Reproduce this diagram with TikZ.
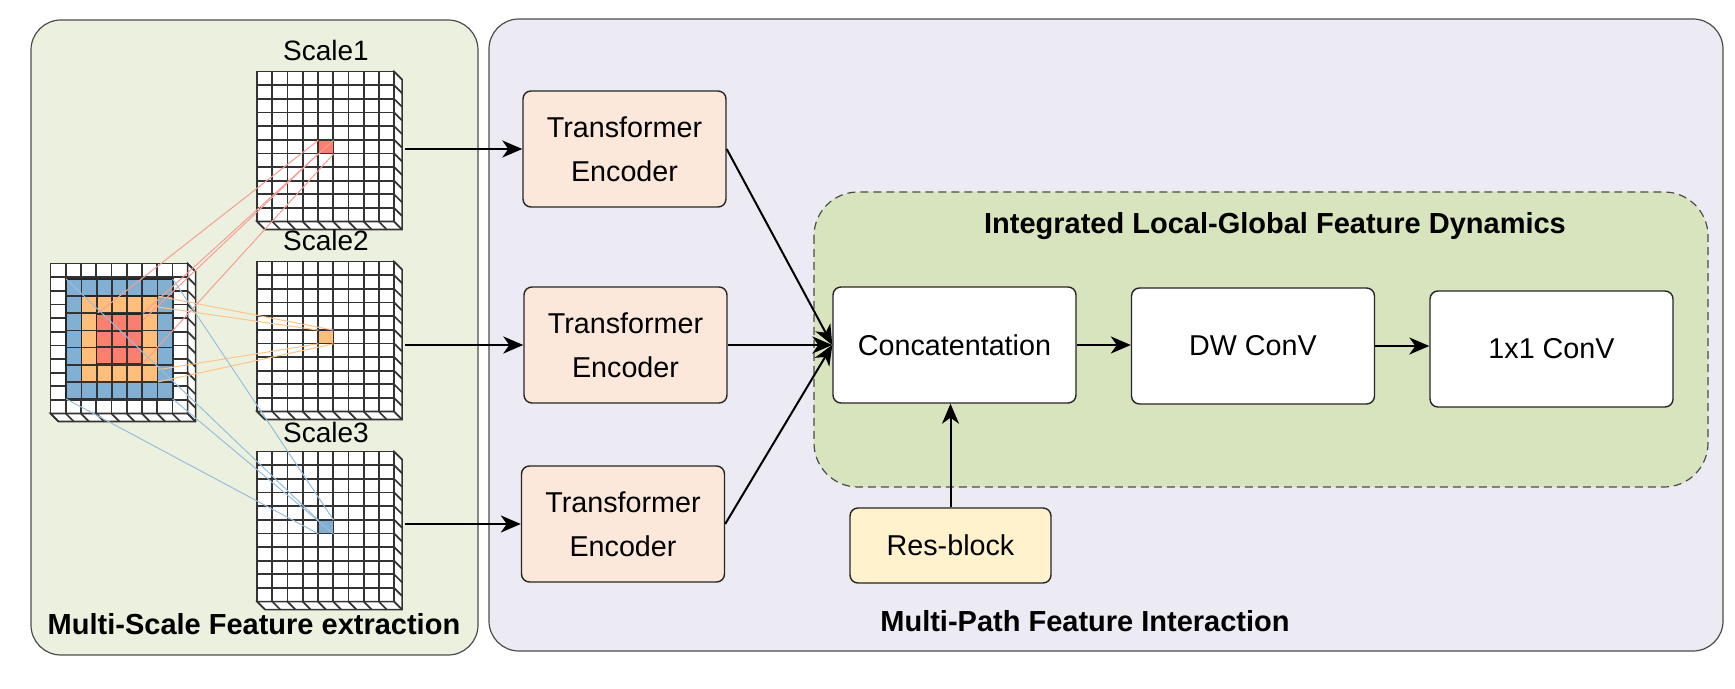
\documentclass[tikz,border=0pt]{standalone}
\usepackage{fontspec}
\setmainfont{Liberation Sans}
\usepackage{tikz}
\usetikzlibrary{arrows.meta,calc}

\definecolor{leftbg}{RGB}{235,241,222}
\definecolor{rightbg}{RGB}{236,234,242}
\definecolor{dashfill}{RGB}{215,228,189}
\definecolor{encfill}{RGB}{252,232,218}
\definecolor{resfill}{RGB}{255,242,204}
\definecolor{redcell}{RGB}{250,127,111}
\definecolor{orangecell}{RGB}{255,190,122}
\definecolor{bluecell}{RGB}{130,176,210}
\definecolor{redlnk}{RGB}{247,158,148}
\definecolor{orangelnk}{RGB}{255,196,136}
\definecolor{bluelnk}{RGB}{152,190,220}

% 9x11 feature map with depth faces, drawn over a named node
\newcommand{\cubegrid}[1]{%
  \begin{scope}[shift={(#1.north west)}]
    \filldraw[gridline,fill=white] (0,0) rectangle (137,150);
    \filldraw[gridline,fill=white] (137,0) -- (145,8) -- (145,158) -- (8,158) -- (0,150) -- (137,150) -- cycle;
    \foreach \gi in {1,...,8} \draw[gridline] (\gi*15.222,0) -- (\gi*15.222,150);
    \foreach \gj in {1,...,10} \draw[gridline] (0,\gj*13.636) -- (137,\gj*13.636);
    \foreach \gj in {0,...,11} \draw[gridline] (137,\gj*13.636) -- ++(8,8);
    \foreach \gi in {0,...,9} \draw[gridline] (\gi*15.222,150) -- ++(8,8);
  \end{scope}}

% n x n cells inside a named patch node
\newcommand{\patchgrid}[2]{%
  \foreach \gi in {1,...,#2}
    \draw[gridline] ($(#1.north west)!\gi/#2!(#1.north east)$) -- ($(#1.south west)!\gi/#2!(#1.south east)$)
                    ($(#1.north west)!\gi/#2!(#1.south west)$) -- ($(#1.north east)!\gi/#2!(#1.south east)$);}

\begin{document}
\begin{tikzpicture}[x=0.5pt,y=-0.5pt,
   panel/.style={draw=black!70,line width=0.6pt,rounded corners=15pt},
   block/.style={draw=black!85,line width=0.7pt,rounded corners=4pt,inner sep=0pt,
      font=\fontsize{14.35}{22}\selectfont,align=center},
   enc/.style={block,fill=encfill,minimum width=101.5pt,minimum height=58pt},
   conv/.style={block,fill=white,minimum width=121.5pt,minimum height=58pt},
   gridbox/.style={inner sep=0pt,minimum width=68.5pt,minimum height=75pt},
   patchbox/.style={inner sep=0pt,outer sep=0pt,draw=black!85,line width=0.8pt},
   cellbox/.style={inner sep=0pt,outer sep=0pt,draw=black!80,line width=0.6pt,
      minimum width=7.61pt,minimum height=6.82pt},
   gridline/.style={draw=black!80,line width=0.85pt},
   arr/.style={-{Stealth[length=10pt,width=8.5pt,inset=3pt]},line width=1pt},
   rflink/.style={line width=0.5pt},
   paneltitle/.style={font=\fontsize{14.5}{17}\selectfont\bfseries},
   scalelabel/.style={font=\fontsize{14}{17}\selectfont}]

\useasboundingbox (0,0) rectangle (1735,689);

% panels
\draw[panel,fill=leftbg] (31,20) rectangle (478,655);
\draw[panel,fill=rightbg] (489,19) rectangle (1723,651);
\draw[draw=black!70,line width=0.6pt,dash pattern=on 4pt off 2.5pt,rounded corners=22pt,fill=dashfill]
   (814,192) rectangle (1708,487);

% feature maps
\node[gridbox] (in) at (119.5,339) {};
\node[gridbox] (s1) at (326,147) {};
\node[gridbox] (s2) at (326,337) {};
\node[gridbox] (s3) at (326,527) {};
\foreach \g in {in,s1,s2,s3} \cubegrid{\g};

\node[scalelabel] (l1) at (326,50) {Scale1};
\node[scalelabel] (l2) at (326,240) {Scale2};
\node[scalelabel] (l3) at (326,432) {Scale3};

\node[cellbox,fill=redcell] (c1) at (s1.center) {};
\node[cellbox,fill=orangecell] (c2) at (s2.center) {};
\node[cellbox,fill=bluecell] (c3) at (s3.center) {};

% receptive regions and their links
\node[patchbox,fill=bluecell,minimum width=53.3pt,minimum height=60pt] (rb) at (in.center) {};
\patchgrid{rb}{7}
\node[patchbox,draw=none,minimum width=38.05pt,minimum height=43pt] (ro) at (in.center) {};
\node[patchbox,draw=none,minimum width=22.83pt,minimum height=25pt] (rr) at (in.center) {};
\foreach \a in {north west,north east,south west,south east}
  \draw[rflink,orangelnk] (c2.\a) -- (ro.\a);
\node[patchbox,fill=orangecell,minimum width=38.05pt,minimum height=43pt] at (ro) {};
\patchgrid{ro}{5}
\foreach \a in {north west,north east,south west,south east}
  \draw[rflink,redlnk] (c1.\a) -- (rr.\a);
\node[patchbox,fill=redcell,minimum width=22.83pt,minimum height=25pt] at (rr) {};
\patchgrid{rr}{3}
\foreach \a in {north west,north east,south west,south east}
  \draw[rflink,bluelnk] (c3.\a) -- (rb.\a);

% blocks
\node[enc] (t1) at (624.5,149) {Transformer\\Encoder};
\node[enc] (t2) at (625.5,345) {Transformer\\Encoder};
\node[enc] (t3) at (623,524) {Transformer\\Encoder};
\node[conv] (cat) at (954.5,345) {Concatentation};
\node[conv] (dw) at (1253,346) {DW ConV};
\node[conv] (pw) at (1551.5,349) {1x1 ConV};
\node[block,fill=resfill,minimum width=100.5pt,minimum height=37.5pt] (res) at (950.5,545.5) {Res-block};

\draw[arr] ([xshift=5pt]s1.east |- t1.west) -- (t1.west);
\draw[arr] ([xshift=5pt]s2.east |- t2.west) -- (t2.west);
\draw[arr] ([xshift=5pt]s3.east |- t3.west) -- (t3.west);
\draw[arr] (t1.east) -- (cat.west);
\draw[arr] (t2.east) -- (cat.west);
\draw[arr] (t3.east) -- (cat.west);
\draw[arr] (cat.east) -- (cat.east -| dw.west);
\draw[arr] (dw.east) -- (dw.east -| pw.west);
\draw[arr] (res.north) -- (res.north |- cat.south);

% titles
\node[paneltitle] (lt) at (254,624) {Multi-Scale Feature extraction};
\node[paneltitle] (rt) at (1085,621) {Multi-Path Feature Interaction};
\node[paneltitle] (dt) at (1275,226) {Integrated Local-Global Feature Dynamics};
\end{tikzpicture}
\end{document}
